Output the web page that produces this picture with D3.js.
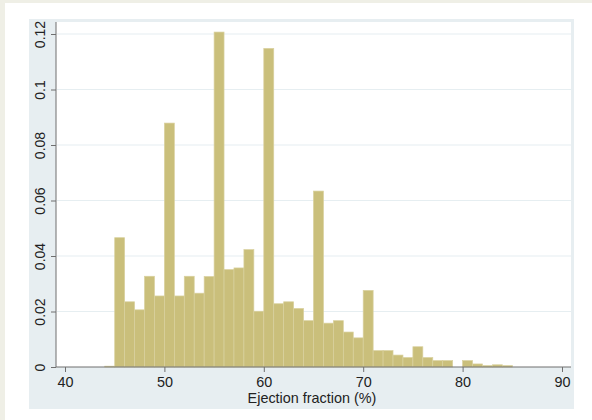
<!DOCTYPE html>
<html>
<head>
<meta charset="utf-8">
<script src="https://cdn.jsdelivr.net/npm/d3@7"></script>
<style>
  html, body { margin: 0; padding: 0; background: #efefe6; }
  svg { display: block; font-family: "Liberation Sans", Arial, Helvetica, sans-serif; }
</style>
</head>
<body>
<div id="chart"></div>
<script>
// bin start (ejection fraction, width 1) and density
var binStarts = [44, 45, 46, 47, 48, 49, 50, 51, 52, 53, 54, 55, 56, 57, 58, 59, 60, 61, 62, 63, 64,
  65, 66, 67, 68, 69, 70, 71, 72, 73, 74, 75, 76, 77, 78, 79, 80, 81, 82, 83, 84];
var density = [0.0003, 0.0466, 0.0235, 0.0206, 0.0327, 0.0256, 0.0879, 0.0256, 0.0327, 0.0266, 0.0326,
  0.1207, 0.0351, 0.0357, 0.0423, 0.0201, 0.1148, 0.0228, 0.0235, 0.0211, 0.0167,
  0.0634, 0.0158, 0.0167, 0.0126, 0.0105, 0.0276, 0.0059, 0.0059, 0.0043, 0.0034,
  0.0073, 0.0034, 0.0023, 0.0023, 0, 0.0023, 0.0011, 0.0005, 0.0008, 0.0005];
var binWidth = 1;
var xTicks = [40, 50, 60, 70, 80, 90];
var yTicks = [0, 0.02, 0.04, 0.06, 0.08, 0.1, 0.12];
var xTitle = "Ejection fraction (%)";

var width = 592, height = 420;

var svg = d3.select("#chart").append("svg")
  .attr("width", width)
  .attr("height", height);

// card + graph region
svg.append("rect").attr("x", 0).attr("y", 0).attr("width", width).attr("height", height).attr("fill", "#efefe6");
svg.append("rect").attr("x", 5).attr("y", 3).attr("width", width - 5).attr("height", height - 3).attr("fill", "#ffffff");
svg.append("rect").attr("x", 29).attr("y", 19).attr("width", 545).attr("height", 390).attr("fill", "#e7eef1");

var x = d3.scaleLinear().domain([40, 90]).range([65, 562]);
var y = d3.scaleLinear().domain([0, 0.12]).range([367, 34]);

// plot region
svg.append("rect").attr("x", 56).attr("y", 22).attr("width", 515).attr("height", 345).attr("fill", "#ffffff");

// gridlines
svg.append("g").selectAll("line")
  .data(yTicks.filter(function (d) { return d > 0; }))
  .enter().append("line")
  .attr("x1", 57).attr("x2", 571)
  .attr("y1", function (d) { return y(d); })
  .attr("y2", function (d) { return y(d); })
  .attr("stroke", "#e6eef1")
  .attr("stroke-width", 1.2);

// bars
svg.append("g").selectAll("rect")
  .data(binStarts)
  .enter().append("rect")
  .attr("x", function (d) { return x(d); })
  .attr("width", function (d) { return x(d + binWidth) - x(d); })
  .attr("y", function (d, i) { return y(density[i]); })
  .attr("height", function (d, i) { return y(0) - y(density[i]); })
  .attr("fill", "#cabf7b")
  .attr("stroke", "#d9d19f")
  .attr("stroke-width", 0.7);

// axes
var xAxis = svg.append("g")
  .attr("transform", "translate(0," + y(0) + ")")
  .call(d3.axisBottom(x).tickValues(xTicks).tickFormat(d3.format("d")).tickSize(5).tickSizeOuter(0));
xAxis.select(".domain").attr("d", "M56,0H571").attr("stroke", "#6f6f6f");

var yAxis = svg.append("g")
  .attr("transform", "translate(56,0)")
  .call(d3.axisLeft(y).tickValues(yTicks).tickFormat(function (d) { return d === 0 ? "0" : d3.format("")(+d.toFixed(2)); }).tickSize(5).tickSizeOuter(0));
yAxis.select(".domain").attr("d", "M0,367V22").attr("stroke", "#6f6f6f");

svg.selectAll(".tick line").attr("stroke", "#6f6f6f");
xAxis.selectAll("text")
  .attr("font-size", 14.4)
  .attr("fill", "#222")
  .attr("y", 20)
  .attr("dy", 0);
yAxis.selectAll("text")
  .attr("font-size", 14)
  .attr("fill", "#222")
  .attr("text-anchor", "middle")
  .attr("dy", 0)
  .attr("x", 0)
  .attr("transform", "translate(-11,0) rotate(-90)");

svg.append("text")
  .attr("x", 312)
  .attr("y", 403)
  .attr("text-anchor", "middle")
  .attr("font-size", 14.4)
  .attr("fill", "#222")
  .text(xTitle);
</script>
</body>
</html>
